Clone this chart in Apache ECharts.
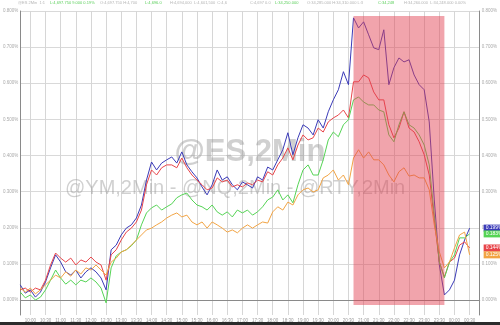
<!DOCTYPE html>
<html><head><meta charset="utf-8">
<script src="https://cdn.jsdelivr.net/npm/echarts@6/dist/echarts.min.js"></script>
<style>html,body{margin:0;padding:0;background:#fff}#c{width:500px;height:325px}</style>
</head><body><div id="c"></div>
<script>
// ---- data (percent change) ----
const categoryCount = 92;           // 10-minute slots
const startMinutes = 9 * 60 + 40;
const categories = [];
for (let i = 0; i < categoryCount; i++) {
  const t = startMinutes + i * 10;
  const hh = Math.floor(t / 60) % 24, mm = t % 60;
  categories.push(String(hh).padStart(2, '0') + ':' + String(mm).padStart(2, '0'));
}
const yTicks = [0, 0.1, 0.2, 0.3, 0.4, 0.5, 0.6, 0.7, 0.8];

const esBlue = [0.042,0.019,0.028,0.008,0.022,0.050,0.089,0.125,0.105,0.078,
  0.069,0.083,0.061,0.078,0.089,0.078,0.061,0.028,0.139,0.152,
  0.180,0.199,0.208,0.227,0.263,0.332,0.382,0.360,0.379,0.388,
  0.396,0.379,0.410,0.374,0.355,0.338,0.313,0.291,0.319,0.360,
  0.332,0.341,0.319,0.305,0.327,0.319,0.310,0.341,0.332,0.368,
  0.360,0.388,0.416,0.463,0.402,0.449,0.485,0.476,0.457,0.499,
  0.476,0.521,0.554,0.582,0.632,0.596,0.781,0.753,0.770,0.734,
  0.698,0.693,0.748,0.596,0.643,0.670,0.659,0.665,0.623,0.596,
  0.582,0.493,0.277,0.097,0.014,0.028,0.055,0.125,0.166,0.199];
const nqRed = [0.028,0.033,0.022,0.033,0.028,0.055,0.097,0.130,0.116,0.105,
  0.116,0.097,0.111,0.105,0.119,0.105,0.097,0.055,0.125,0.139,
  0.166,0.188,0.199,0.216,0.249,0.319,0.360,0.346,0.366,0.374,
  0.374,0.366,0.393,0.366,0.346,0.332,0.319,0.305,0.310,0.338,
  0.327,0.332,0.313,0.319,0.313,0.324,0.319,0.332,0.327,0.355,
  0.346,0.374,0.393,0.421,0.388,0.429,0.457,0.443,0.449,0.476,
  0.465,0.493,0.504,0.512,0.526,0.504,0.604,0.604,0.623,0.615,
  0.576,0.554,0.554,0.485,0.449,0.476,0.521,0.476,0.465,0.438,
  0.402,0.346,0.222,0.105,0.064,0.105,0.116,0.152,0.161,0.144];
const ymGreen = [0.022,0.006,0.014,0.000,0.008,0.028,0.055,0.083,0.061,0.044,
  0.055,0.042,0.055,0.050,0.061,0.050,0.033,-0.008,0.089,0.122,
  0.133,0.139,0.150,0.166,0.208,0.241,0.255,0.263,0.249,0.258,
  0.266,0.283,0.291,0.296,0.277,0.263,0.258,0.249,0.263,0.244,
  0.235,0.244,0.230,0.249,0.241,0.249,0.235,0.244,0.258,0.277,
  0.285,0.305,0.277,0.291,0.269,0.319,0.360,0.374,0.346,0.346,
  0.388,0.443,0.465,0.452,0.485,0.499,0.554,0.562,0.548,0.540,
  0.540,0.526,0.521,0.457,0.438,0.485,0.521,0.485,0.476,0.457,
  0.429,0.374,0.235,0.105,0.061,0.105,0.125,0.172,0.172,0.183];
const rtyOrange = [0.033,0.022,0.033,0.017,0.028,0.042,0.055,0.069,0.061,0.078,
  0.066,0.083,0.072,0.089,0.083,0.097,0.083,0.069,0.105,0.116,
  0.133,0.139,0.152,0.166,0.180,0.194,0.199,0.208,0.216,0.227,
  0.235,0.241,0.230,0.235,0.216,0.208,0.216,0.199,0.216,0.208,
  0.199,0.188,0.194,0.186,0.199,0.208,0.199,0.208,0.216,0.213,
  0.244,0.258,0.249,0.271,0.263,0.291,0.305,0.310,0.299,0.305,
  0.338,0.346,0.360,0.332,0.346,0.319,0.393,0.416,0.393,0.410,
  0.388,0.388,0.374,0.346,0.327,0.355,0.366,0.343,0.346,0.338,
  0.338,0.305,0.208,0.133,0.089,0.105,0.144,0.180,0.188,0.125];

// shaded window
const shadeStartIdx = 66, shadeEndIdx = 84;
const shadeTop = 0.786, shadeBottom = -0.014;
const yMin = -0.0415, yMax = 0.8;

const headerParts = [
  ['@ES 2Min  1:1', '#b4b4b4', 18], ['L:4,697.750 9.000 0.19%', '#5ccf5c', 50],
  ['O:4,697.750 H:4,700', '#b4b4b4', 100], ['L:4,696.0', '#5ccf5c', 145],
  ['H:4,694,000  L:4,601,500  C:4,6', '#b4b4b4', 170],
  ['C:4,697 0.0', '#b4b4b4', 250], ['L:34,250.000', '#5ccf5c', 275],
  ['O:34,285.000 H:34,310.000 L:3', '#b4b4b4', 307],
  ['C:34,248', '#5ccf5c', 378],
  ['H:34,260.000  L:34,248.000 0.00%', '#b4b4b4', 404]
];

const chart = echarts.init(document.getElementById('c'), null, {renderer: 'canvas'});
const fmt = v => v.toFixed(3) + '%';
const mk = (name, data, color) => ({
  name, type: 'line', data, symbol: 'none', z: 3,
  lineStyle: {color, width: 1}, itemStyle: {color},
  emphasis: {disabled: true},
  endLabel: {show: true, distance: 14, formatter: p => fmt(p.value), color: '#fff',
    backgroundColor: color, fontSize: 5, padding: [1, 2], fontFamily: 'Liberation Sans'}
});
const gridIdx = i => (i - 2) % 3 === 0;
const yAxisBase = (pos, grid) => ({
  type: 'value', position: pos, min: yMin, max: yMax,
  axisLine: {show: true, lineStyle: {color: '#8a8a8a'}},
  axisTick: {show: false, customValues: yTicks},
  axisLabel: {customValues: yTicks, formatter: fmt, fontSize: 4.5, color: '#aaa', margin: 2, fontFamily: 'Liberation Sans'},
  splitLine: {show: grid, lineStyle: {color: '#d9d9d9', width: 1}}
});

chart.setOption({
  animation: false,
  backgroundColor: '#fff',
  grid: {left: 15, right: 16, top: 11, bottom: 10},
  xAxis: {
    type: 'category', data: categories, boundaryGap: false,
    axisLine: {lineStyle: {color: '#8a8a8a'}}, axisTick: {show: false},
    axisLabel: {interval: gridIdx, fontSize: 4.5, color: '#999', margin: 3, fontFamily: 'Liberation Sans'},
    splitLine: {show: true, interval: gridIdx, lineStyle: {color: '#d6d6d6', width: 1}}
  },
  yAxis: [yAxisBase('left', true), yAxisBase('right', false)],
  graphic: [
    {type: 'text', z: 1, left: 'center', top: 137, style: {text: '@ES,2Min', font: 'bold 31px "Liberation Sans", Arial', fill: 'rgba(150,150,150,0.45)'}},
    {type: 'text', z: 1, x: 65, y: 178, style: {text: '@YM,2Min - @NQ,2Min - @RTY,2Min', font: '20px "Liberation Sans", Arial', fill: 'rgba(150,150,150,0.45)'}},
    {type: 'rect', z: 10, shape: {x: 0, y: 322, width: 500, height: 3}, style: {fill: '#2b2b2b'}},
    ...headerParts.map(h => ({type: 'text', z: 10, x: h[2], y: 1, style: {text: h[0], font: '4px "Liberation Sans", Arial', fill: h[1]}}))
  ],
  series: [
    mk('@ES', esBlue, '#3b3bb8'),
    mk('@NQ', nqRed, '#e8454a'),
    mk('@YM', ymGreen, '#55d455'),
    mk('@RTY', rtyOrange, '#f2a444'),
    {
      name: 'shade', type: 'line', data: [], z: 10, silent: true,
      markArea: {silent: true, z: 10, itemStyle: {color: 'rgba(225,65,81,0.48)'},
        data: [[{xAxis: categories[shadeStartIdx], yAxis: shadeTop}, {xAxis: categories[shadeEndIdx], yAxis: shadeBottom}]]}
    }
  ]
});
</script></body></html>
